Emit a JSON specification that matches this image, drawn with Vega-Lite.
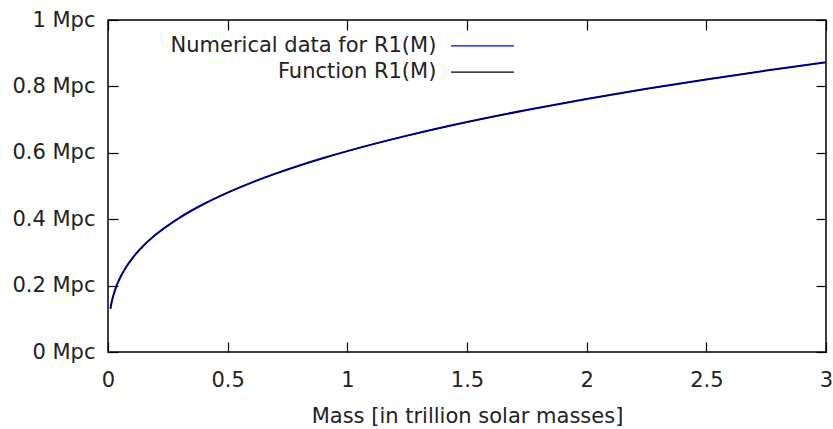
{
  "$schema": "https://vega.github.io/schema/vega-lite/v6.json",
  "autosize": "none",
  "width": 718,
  "height": 332,
  "padding": {"left": 108, "top": 20, "right": 7, "bottom": 77},
  "background": "white",
  "config": {
    "view": {"stroke": "black", "strokeWidth": 1.5},
    "font": "DejaVu Sans",
    "axis": {
      "labelFont": "DejaVu Sans", "titleFont": "DejaVu Sans",
      "labelFontSize": 21, "titleFontSize": 21, "titleFontWeight": "normal",
      "labelColor": "#222", "titleColor": "#222",
      "domainColor": "black", "tickColor": "black", "tickWidth": 1.2,
      "grid": false, "labelFlush": false
    }
  },
  "data": {"values": [
    {"M": 0.01, "R": 0.1303, "s": "num"},
    {"M": 0.015, "R": 0.1492, "s": "num"},
    {"M": 0.02, "R": 0.1642, "s": "num"},
    {"M": 0.03, "R": 0.1880, "s": "num"},
    {"M": 0.04, "R": 0.2069, "s": "num"},
    {"M": 0.05, "R": 0.2229, "s": "num"},
    {"M": 0.075, "R": 0.2551, "s": "num"},
    {"M": 0.1, "R": 0.2808, "s": "num"},
    {"M": 0.15, "R": 0.3215, "s": "num"},
    {"M": 0.2, "R": 0.3538, "s": "num"},
    {"M": 0.3, "R": 0.4050, "s": "num"},
    {"M": 0.4, "R": 0.4458, "s": "num"},
    {"M": 0.5, "R": 0.4802, "s": "num"},
    {"M": 0.6, "R": 0.5103, "s": "num"},
    {"M": 0.7, "R": 0.5372, "s": "num"},
    {"M": 0.8, "R": 0.5616, "s": "num"},
    {"M": 0.9, "R": 0.5841, "s": "num"},
    {"M": 1.0, "R": 0.6050, "s": "num"},
    {"M": 1.25, "R": 0.6517, "s": "num"},
    {"M": 1.5, "R": 0.6926, "s": "num"},
    {"M": 1.75, "R": 0.7291, "s": "num"},
    {"M": 2.0, "R": 0.7623, "s": "num"},
    {"M": 2.25, "R": 0.7928, "s": "num"},
    {"M": 2.5, "R": 0.8211, "s": "num"},
    {"M": 2.75, "R": 0.8476, "s": "num"},
    {"M": 3.0, "R": 0.8726, "s": "num"},
    {"M": 0.01, "R": 0.1303, "s": "fn"},
    {"M": 0.015, "R": 0.1492, "s": "fn"},
    {"M": 0.02, "R": 0.1642, "s": "fn"},
    {"M": 0.03, "R": 0.1880, "s": "fn"},
    {"M": 0.04, "R": 0.2069, "s": "fn"},
    {"M": 0.05, "R": 0.2229, "s": "fn"},
    {"M": 0.075, "R": 0.2551, "s": "fn"},
    {"M": 0.1, "R": 0.2808, "s": "fn"},
    {"M": 0.15, "R": 0.3215, "s": "fn"},
    {"M": 0.2, "R": 0.3538, "s": "fn"},
    {"M": 0.3, "R": 0.4050, "s": "fn"},
    {"M": 0.4, "R": 0.4458, "s": "fn"},
    {"M": 0.5, "R": 0.4802, "s": "fn"},
    {"M": 0.6, "R": 0.5103, "s": "fn"},
    {"M": 0.7, "R": 0.5372, "s": "fn"},
    {"M": 0.8, "R": 0.5616, "s": "fn"},
    {"M": 0.9, "R": 0.5841, "s": "fn"},
    {"M": 1.0, "R": 0.6050, "s": "fn"},
    {"M": 1.25, "R": 0.6517, "s": "fn"},
    {"M": 1.5, "R": 0.6926, "s": "fn"},
    {"M": 1.75, "R": 0.7291, "s": "fn"},
    {"M": 2.0, "R": 0.7623, "s": "fn"},
    {"M": 2.25, "R": 0.7928, "s": "fn"},
    {"M": 2.5, "R": 0.8211, "s": "fn"},
    {"M": 2.75, "R": 0.8476, "s": "fn"},
    {"M": 3.0, "R": 0.8726, "s": "fn"}
  ]},
  "resolve": {"axis": {"x": "independent", "y": "independent"}},
  "layer": [
    {
      "transform": [{"filter": "datum.s == 'num'"}],
      "mark": {"type": "line", "color": "#0000ff", "strokeWidth": 2, "interpolate": "monotone", "clip": true},
      "encoding": {
        "x": {"field": "M", "type": "quantitative", "scale": {"domain": [0, 3], "nice": false, "zero": false},
          "axis": {"orient": "bottom", "values": [0, 0.5, 1, 1.5, 2, 2.5, 3], "format": "~g", "tickSize": -10, "labelPadding": 27, "title": "Mass [in trillion solar masses]", "titlePadding": 15, "domain": false}},
        "y": {"field": "R", "type": "quantitative", "scale": {"domain": [0, 1], "nice": false, "zero": false},
          "axis": {"orient": "left", "values": [0, 0.2, 0.4, 0.6, 0.8, 1], "format": ".1~f", "labelExpr": "datum.label + ' Mpc'", "tickSize": -10, "labelPadding": 23, "title": null, "domain": false}}
      }
    },
    {
      "transform": [{"filter": "datum.s == 'fn'"}],
      "mark": {"type": "line", "color": "#000000", "strokeWidth": 1.3, "opacity": 0.75, "interpolate": "monotone", "clip": true},
      "encoding": {
        "x": {"field": "M", "type": "quantitative",
          "axis": {"orient": "top", "values": [0, 0.5, 1, 1.5, 2, 2.5, 3], "labels": false, "tickSize": -10, "title": null, "domain": false}},
        "y": {"field": "R", "type": "quantitative",
          "axis": {"orient": "right", "values": [0, 0.2, 0.4, 0.6, 0.8, 1], "labels": false, "tickSize": -10, "title": null, "domain": false}}
      }
    },
    {
      "data": {"values": [{"label": "Numerical data for R1(M)"}]},
      "mark": {"type": "text", "align": "right", "baseline": "middle", "font": "DejaVu Sans", "fontSize": 21, "fontWeight": "normal", "color": "#222"},
      "encoding": {"x": {"datum": 1.372, "axis": null}, "y": {"datum": 0.922, "axis": null}, "text": {"field": "label"}}
    },
    {
      "data": {"values": [{"label": "Function R1(M)"}]},
      "mark": {"type": "text", "align": "right", "baseline": "middle", "font": "DejaVu Sans", "fontSize": 21, "fontWeight": "normal", "color": "#222"},
      "encoding": {"x": {"datum": 1.372, "axis": null}, "y": {"datum": 0.843, "axis": null}, "text": {"field": "label"}}
    },
    {
      "data": {"values": [{"series": "num"}]},
      "mark": {"type": "rule", "color": "#0000ff", "strokeWidth": 1.3},
      "encoding": {"x": {"datum": 1.433, "axis": null}, "x2": {"datum": 1.696}, "y": {"datum": 0.922, "axis": null}}
    },
    {
      "data": {"values": [{"series": "fn"}]},
      "mark": {"type": "rule", "color": "#000000", "strokeWidth": 1.3},
      "encoding": {"x": {"datum": 1.433, "axis": null}, "x2": {"datum": 1.696}, "y": {"datum": 0.843, "axis": null}}
    }
  ]
}
